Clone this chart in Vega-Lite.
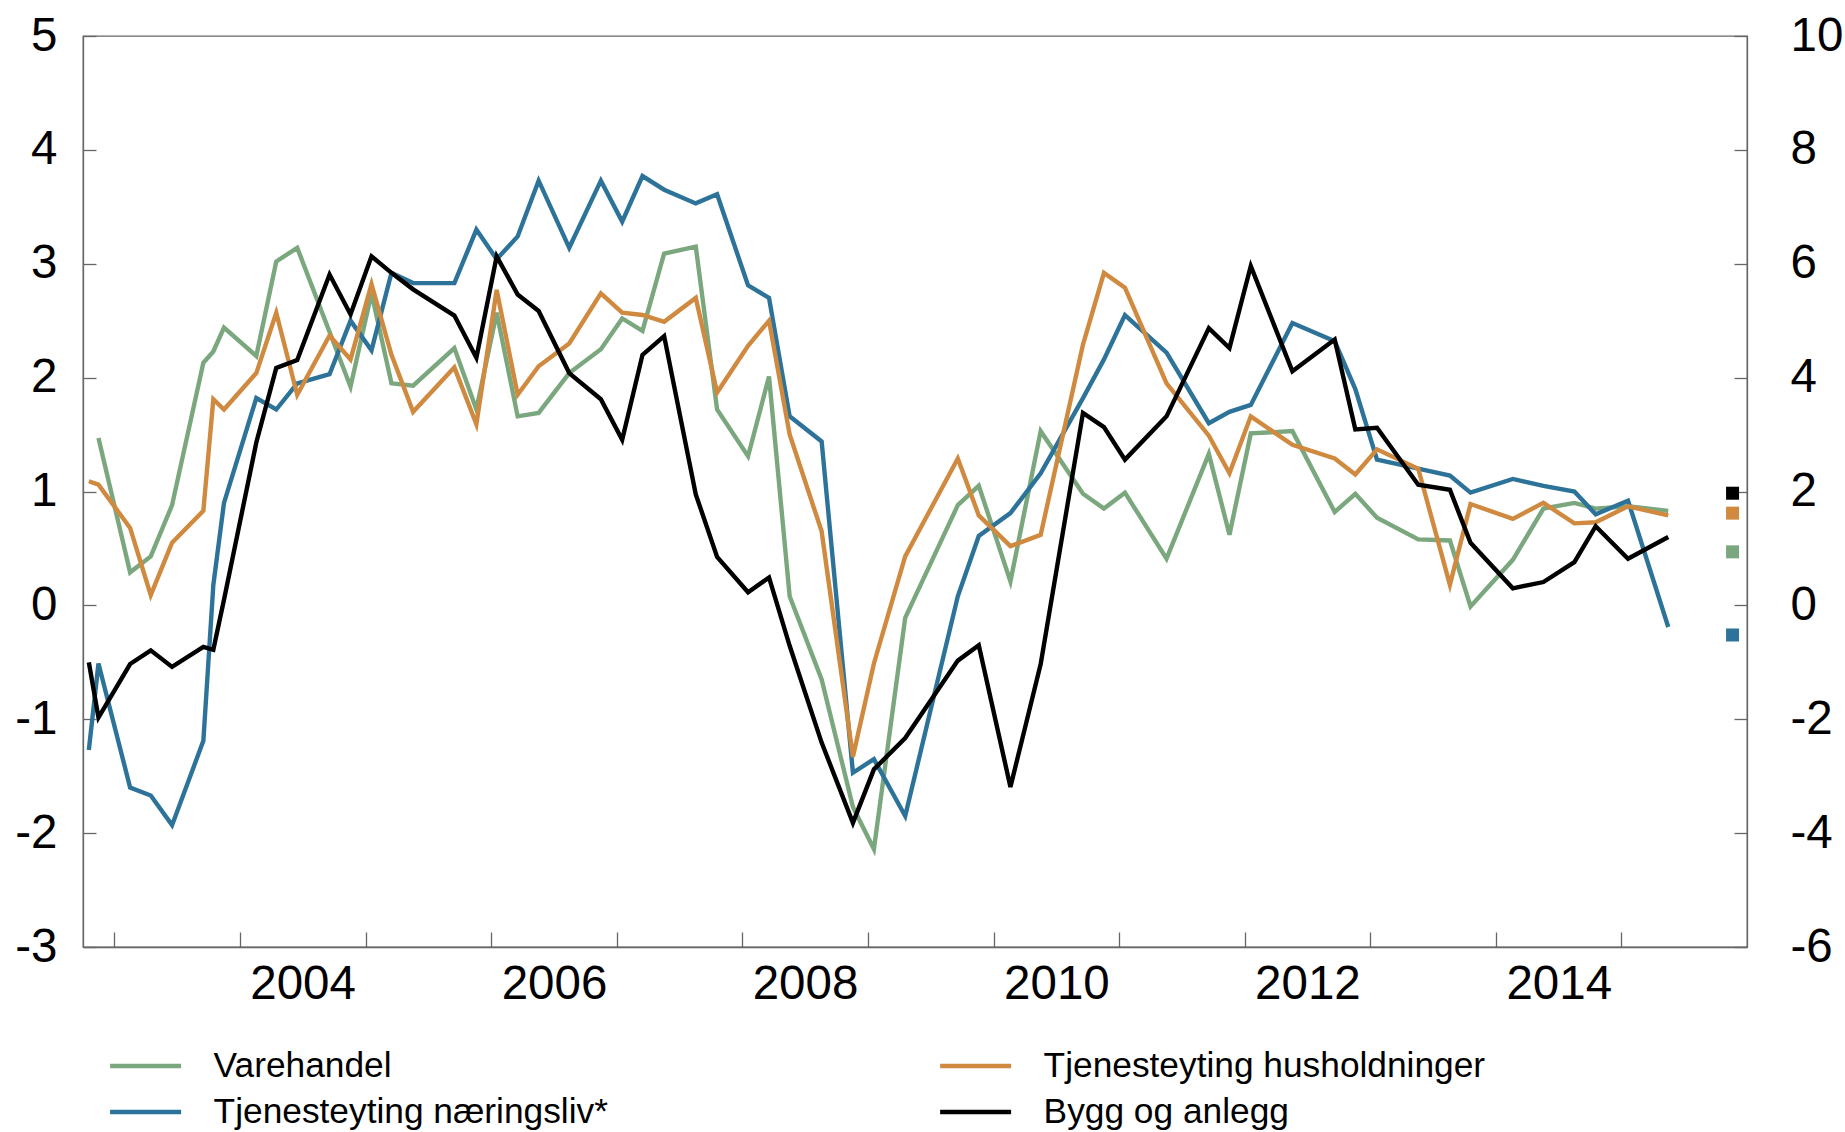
{
  "$schema": "https://vega.github.io/schema/vega-lite/v6.json",
  "width": 1664,
  "height": 911,
  "autosize": {"type": "none"},
  "padding": {"left": 83, "top": 36, "right": 98, "bottom": 185},
  "background": "white",
  "datasets": {
    "lines": [
      {"d":"2002-11-16","s":"Varehandel","v":1.47},{"d":"2003-02-16","s":"Varehandel","v":0.29},{"d":"2003-04-17","s":"Varehandel","v":0.43},{"d":"2003-06-18","s":"Varehandel","v":0.88},{"d":"2003-09-17","s":"Varehandel","v":2.13},{"d":"2003-10-16","s":"Varehandel","v":2.23},{"d":"2003-11-16","s":"Varehandel","v":2.44},{"d":"2004-02-18","s":"Varehandel","v":2.19},{"d":"2004-04-16","s":"Varehandel","v":3.02},{"d":"2004-06-16","s":"Varehandel","v":3.14},{"d":"2004-09-18","s":"Varehandel","v":2.40},{"d":"2004-11-18","s":"Varehandel","v":1.92},{"d":"2005-01-18","s":"Varehandel","v":2.74},{"d":"2005-03-17","s":"Varehandel","v":1.95},{"d":"2005-05-19","s":"Varehandel","v":1.93},{"d":"2005-09-16","s":"Varehandel","v":2.26},{"d":"2005-11-19","s":"Varehandel","v":1.72},{"d":"2006-01-17","s":"Varehandel","v":2.57},{"d":"2006-03-19","s":"Varehandel","v":1.66},{"d":"2006-05-19","s":"Varehandel","v":1.69},{"d":"2006-08-16","s":"Varehandel","v":2.04},{"d":"2006-11-16","s":"Varehandel","v":2.25},{"d":"2007-01-17","s":"Varehandel","v":2.52},{"d":"2007-03-17","s":"Varehandel","v":2.41},{"d":"2007-05-19","s":"Varehandel","v":3.09},{"d":"2007-08-19","s":"Varehandel","v":3.15},{"d":"2007-10-20","s":"Varehandel","v":1.72},{"d":"2008-01-18","s":"Varehandel","v":1.31},{"d":"2008-03-19","s":"Varehandel","v":2.01},{"d":"2008-05-18","s":"Varehandel","v":0.08},{"d":"2008-08-19","s":"Varehandel","v":-0.65},{"d":"2008-11-18","s":"Varehandel","v":-1.77},{"d":"2009-01-18","s":"Varehandel","v":-2.14},{"d":"2009-04-19","s":"Varehandel","v":-0.11},{"d":"2009-09-19","s":"Varehandel","v":0.88},{"d":"2009-11-19","s":"Varehandel","v":1.05},{"d":"2010-02-19","s":"Varehandel","v":0.21},{"d":"2010-05-18","s":"Varehandel","v":1.53},{"d":"2010-09-18","s":"Varehandel","v":0.98},{"d":"2010-11-18","s":"Varehandel","v":0.85},{"d":"2011-01-18","s":"Varehandel","v":0.99},{"d":"2011-05-19","s":"Varehandel","v":0.41},{"d":"2011-09-19","s":"Varehandel","v":1.33},{"d":"2011-11-18","s":"Varehandel","v":0.62},{"d":"2012-01-19","s":"Varehandel","v":1.51},{"d":"2012-05-19","s":"Varehandel","v":1.53},{"d":"2012-09-19","s":"Varehandel","v":0.82},{"d":"2012-11-18","s":"Varehandel","v":0.98},{"d":"2013-01-20","s":"Varehandel","v":0.77},{"d":"2013-05-20","s":"Varehandel","v":0.58},{"d":"2013-08-20","s":"Varehandel","v":0.57},{"d":"2013-10-19","s":"Varehandel","v":-0.01},{"d":"2014-02-19","s":"Varehandel","v":0.40},{"d":"2014-05-19","s":"Varehandel","v":0.85},{"d":"2014-08-17","s":"Varehandel","v":0.90},{"d":"2014-10-18","s":"Varehandel","v":0.85},{"d":"2015-01-20","s":"Varehandel","v":0.87},{"d":"2015-05-17","s":"Varehandel","v":0.83},
      {"d":"2002-10-19","s":"Tjenesteyting næringsliv*","v":-1.27},{"d":"2002-11-16","s":"Tjenesteyting næringsliv*","v":-0.51},{"d":"2003-02-16","s":"Tjenesteyting næringsliv*","v":-1.60},{"d":"2003-04-17","s":"Tjenesteyting næringsliv*","v":-1.67},{"d":"2003-06-18","s":"Tjenesteyting næringsliv*","v":-1.93},{"d":"2003-09-17","s":"Tjenesteyting næringsliv*","v":-1.19},{"d":"2003-10-16","s":"Tjenesteyting næringsliv*","v":0.18},{"d":"2003-11-16","s":"Tjenesteyting næringsliv*","v":0.90},{"d":"2004-02-18","s":"Tjenesteyting næringsliv*","v":1.82},{"d":"2004-04-16","s":"Tjenesteyting næringsliv*","v":1.72},{"d":"2004-06-16","s":"Tjenesteyting næringsliv*","v":1.95},{"d":"2004-09-18","s":"Tjenesteyting næringsliv*","v":2.03},{"d":"2004-11-18","s":"Tjenesteyting næringsliv*","v":2.50},{"d":"2005-01-18","s":"Tjenesteyting næringsliv*","v":2.24},{"d":"2005-03-17","s":"Tjenesteyting næringsliv*","v":2.92},{"d":"2005-05-19","s":"Tjenesteyting næringsliv*","v":2.83},{"d":"2005-09-16","s":"Tjenesteyting næringsliv*","v":2.83},{"d":"2005-11-19","s":"Tjenesteyting næringsliv*","v":3.30},{"d":"2006-01-17","s":"Tjenesteyting næringsliv*","v":3.04},{"d":"2006-03-19","s":"Tjenesteyting næringsliv*","v":3.24},{"d":"2006-05-19","s":"Tjenesteyting næringsliv*","v":3.73},{"d":"2006-08-16","s":"Tjenesteyting næringsliv*","v":3.14},{"d":"2006-11-16","s":"Tjenesteyting næringsliv*","v":3.73},{"d":"2007-01-17","s":"Tjenesteyting næringsliv*","v":3.37},{"d":"2007-03-17","s":"Tjenesteyting næringsliv*","v":3.77},{"d":"2007-05-19","s":"Tjenesteyting næringsliv*","v":3.65},{"d":"2007-08-19","s":"Tjenesteyting næringsliv*","v":3.53},{"d":"2007-10-20","s":"Tjenesteyting næringsliv*","v":3.61},{"d":"2008-01-18","s":"Tjenesteyting næringsliv*","v":2.81},{"d":"2008-03-19","s":"Tjenesteyting næringsliv*","v":2.70},{"d":"2008-05-18","s":"Tjenesteyting næringsliv*","v":1.66},{"d":"2008-08-19","s":"Tjenesteyting næringsliv*","v":1.44},{"d":"2008-11-18","s":"Tjenesteyting næringsliv*","v":-1.47},{"d":"2009-01-18","s":"Tjenesteyting næringsliv*","v":-1.35},{"d":"2009-04-19","s":"Tjenesteyting næringsliv*","v":-1.85},{"d":"2009-09-19","s":"Tjenesteyting næringsliv*","v":0.08},{"d":"2009-11-19","s":"Tjenesteyting næringsliv*","v":0.61},{"d":"2010-02-19","s":"Tjenesteyting næringsliv*","v":0.81},{"d":"2010-05-18","s":"Tjenesteyting næringsliv*","v":1.16},{"d":"2010-09-18","s":"Tjenesteyting næringsliv*","v":1.82},{"d":"2010-11-18","s":"Tjenesteyting næringsliv*","v":2.16},{"d":"2011-01-18","s":"Tjenesteyting næringsliv*","v":2.55},{"d":"2011-05-19","s":"Tjenesteyting næringsliv*","v":2.22},{"d":"2011-09-19","s":"Tjenesteyting næringsliv*","v":1.60},{"d":"2011-11-18","s":"Tjenesteyting næringsliv*","v":1.70},{"d":"2012-01-19","s":"Tjenesteyting næringsliv*","v":1.76},{"d":"2012-05-19","s":"Tjenesteyting næringsliv*","v":2.48},{"d":"2012-09-19","s":"Tjenesteyting næringsliv*","v":2.32},{"d":"2012-11-18","s":"Tjenesteyting næringsliv*","v":1.90},{"d":"2013-01-20","s":"Tjenesteyting næringsliv*","v":1.28},{"d":"2013-05-20","s":"Tjenesteyting næringsliv*","v":1.20},{"d":"2013-08-20","s":"Tjenesteyting næringsliv*","v":1.14},{"d":"2013-10-19","s":"Tjenesteyting næringsliv*","v":0.99},{"d":"2014-02-19","s":"Tjenesteyting næringsliv*","v":1.11},{"d":"2014-05-19","s":"Tjenesteyting næringsliv*","v":1.05},{"d":"2014-08-17","s":"Tjenesteyting næringsliv*","v":1.00},{"d":"2014-10-18","s":"Tjenesteyting næringsliv*","v":0.80},{"d":"2015-01-20","s":"Tjenesteyting næringsliv*","v":0.92},{"d":"2015-05-17","s":"Tjenesteyting næringsliv*","v":-0.19},
      {"d":"2002-10-19","s":"Tjenesteyting husholdninger","v":1.09},{"d":"2002-11-16","s":"Tjenesteyting husholdninger","v":1.06},{"d":"2003-02-16","s":"Tjenesteyting husholdninger","v":0.68},{"d":"2003-04-17","s":"Tjenesteyting husholdninger","v":0.09},{"d":"2003-06-18","s":"Tjenesteyting husholdninger","v":0.55},{"d":"2003-09-17","s":"Tjenesteyting husholdninger","v":0.83},{"d":"2003-10-16","s":"Tjenesteyting husholdninger","v":1.81},{"d":"2003-11-16","s":"Tjenesteyting husholdninger","v":1.72},{"d":"2004-02-18","s":"Tjenesteyting husholdninger","v":2.04},{"d":"2004-04-16","s":"Tjenesteyting husholdninger","v":2.57},{"d":"2004-06-16","s":"Tjenesteyting husholdninger","v":1.85},{"d":"2004-09-18","s":"Tjenesteyting husholdninger","v":2.37},{"d":"2004-11-18","s":"Tjenesteyting husholdninger","v":2.16},{"d":"2005-01-18","s":"Tjenesteyting husholdninger","v":2.82},{"d":"2005-03-17","s":"Tjenesteyting husholdninger","v":2.20},{"d":"2005-05-19","s":"Tjenesteyting husholdninger","v":1.70},{"d":"2005-09-16","s":"Tjenesteyting husholdninger","v":2.09},{"d":"2005-11-19","s":"Tjenesteyting husholdninger","v":1.59},{"d":"2006-01-17","s":"Tjenesteyting husholdninger","v":2.77},{"d":"2006-03-19","s":"Tjenesteyting husholdninger","v":1.85},{"d":"2006-05-19","s":"Tjenesteyting husholdninger","v":2.10},{"d":"2006-08-16","s":"Tjenesteyting husholdninger","v":2.30},{"d":"2006-11-16","s":"Tjenesteyting husholdninger","v":2.74},{"d":"2007-01-17","s":"Tjenesteyting husholdninger","v":2.57},{"d":"2007-03-17","s":"Tjenesteyting husholdninger","v":2.55},{"d":"2007-05-19","s":"Tjenesteyting husholdninger","v":2.49},{"d":"2007-08-19","s":"Tjenesteyting husholdninger","v":2.70},{"d":"2007-10-20","s":"Tjenesteyting husholdninger","v":1.87},{"d":"2008-01-18","s":"Tjenesteyting husholdninger","v":2.28},{"d":"2008-03-19","s":"Tjenesteyting husholdninger","v":2.50},{"d":"2008-05-18","s":"Tjenesteyting husholdninger","v":1.50},{"d":"2008-08-19","s":"Tjenesteyting husholdninger","v":0.65},{"d":"2008-11-18","s":"Tjenesteyting husholdninger","v":-1.33},{"d":"2009-01-18","s":"Tjenesteyting husholdninger","v":-0.51},{"d":"2009-04-19","s":"Tjenesteyting husholdninger","v":0.43},{"d":"2009-09-19","s":"Tjenesteyting husholdninger","v":1.29},{"d":"2009-11-19","s":"Tjenesteyting husholdninger","v":0.79},{"d":"2010-02-19","s":"Tjenesteyting husholdninger","v":0.52},{"d":"2010-05-18","s":"Tjenesteyting husholdninger","v":0.62},{"d":"2010-09-18","s":"Tjenesteyting husholdninger","v":2.29},{"d":"2010-11-18","s":"Tjenesteyting husholdninger","v":2.92},{"d":"2011-01-18","s":"Tjenesteyting husholdninger","v":2.79},{"d":"2011-05-19","s":"Tjenesteyting husholdninger","v":1.95},{"d":"2011-09-19","s":"Tjenesteyting husholdninger","v":1.49},{"d":"2011-11-18","s":"Tjenesteyting husholdninger","v":1.16},{"d":"2012-01-19","s":"Tjenesteyting husholdninger","v":1.66},{"d":"2012-05-19","s":"Tjenesteyting husholdninger","v":1.41},{"d":"2012-09-19","s":"Tjenesteyting husholdninger","v":1.29},{"d":"2012-11-18","s":"Tjenesteyting husholdninger","v":1.15},{"d":"2013-01-20","s":"Tjenesteyting husholdninger","v":1.37},{"d":"2013-05-20","s":"Tjenesteyting husholdninger","v":1.20},{"d":"2013-08-20","s":"Tjenesteyting husholdninger","v":0.18},{"d":"2013-10-19","s":"Tjenesteyting husholdninger","v":0.89},{"d":"2014-02-19","s":"Tjenesteyting husholdninger","v":0.76},{"d":"2014-05-19","s":"Tjenesteyting husholdninger","v":0.90},{"d":"2014-08-17","s":"Tjenesteyting husholdninger","v":0.72},{"d":"2014-10-18","s":"Tjenesteyting husholdninger","v":0.73},{"d":"2015-01-20","s":"Tjenesteyting husholdninger","v":0.87},{"d":"2015-05-17","s":"Tjenesteyting husholdninger","v":0.79},
      {"d":"2002-10-19","s":"Bygg og anlegg","v":-1.00},{"d":"2002-11-16","s":"Bygg og anlegg","v":-1.97},{"d":"2003-02-16","s":"Bygg og anlegg","v":-1.03},{"d":"2003-04-17","s":"Bygg og anlegg","v":-0.79},{"d":"2003-06-18","s":"Bygg og anlegg","v":-1.08},{"d":"2003-09-17","s":"Bygg og anlegg","v":-0.73},{"d":"2003-10-16","s":"Bygg og anlegg","v":-0.78},{"d":"2003-11-16","s":"Bygg og anlegg","v":0.10},{"d":"2004-02-18","s":"Bygg og anlegg","v":2.86},{"d":"2004-04-16","s":"Bygg og anlegg","v":4.17},{"d":"2004-06-16","s":"Bygg og anlegg","v":4.31},{"d":"2004-09-18","s":"Bygg og anlegg","v":5.81},{"d":"2004-11-18","s":"Bygg og anlegg","v":5.11},{"d":"2005-01-18","s":"Bygg og anlegg","v":6.13},{"d":"2005-03-17","s":"Bygg og anlegg","v":5.84},{"d":"2005-05-19","s":"Bygg og anlegg","v":5.55},{"d":"2005-09-16","s":"Bygg og anlegg","v":5.09},{"d":"2005-11-19","s":"Bygg og anlegg","v":4.35},{"d":"2006-01-17","s":"Bygg og anlegg","v":6.13},{"d":"2006-03-19","s":"Bygg og anlegg","v":5.46},{"d":"2006-05-19","s":"Bygg og anlegg","v":5.17},{"d":"2006-08-16","s":"Bygg og anlegg","v":4.08},{"d":"2006-11-16","s":"Bygg og anlegg","v":3.62},{"d":"2007-01-17","s":"Bygg og anlegg","v":2.91},{"d":"2007-03-17","s":"Bygg og anlegg","v":4.40},{"d":"2007-05-19","s":"Bygg og anlegg","v":4.73},{"d":"2007-08-19","s":"Bygg og anlegg","v":1.95},{"d":"2007-10-20","s":"Bygg og anlegg","v":0.85},{"d":"2008-01-18","s":"Bygg og anlegg","v":0.23},{"d":"2008-03-19","s":"Bygg og anlegg","v":0.49},{"d":"2008-05-18","s":"Bygg og anlegg","v":-0.71},{"d":"2008-08-19","s":"Bygg og anlegg","v":-2.41},{"d":"2008-11-18","s":"Bygg og anlegg","v":-3.82},{"d":"2009-01-18","s":"Bygg og anlegg","v":-2.88},{"d":"2009-04-19","s":"Bygg og anlegg","v":-2.33},{"d":"2009-09-19","s":"Bygg og anlegg","v":-0.97},{"d":"2009-11-19","s":"Bygg og anlegg","v":-0.70},{"d":"2010-02-19","s":"Bygg og anlegg","v":-3.19},{"d":"2010-05-18","s":"Bygg og anlegg","v":-1.03},{"d":"2010-09-18","s":"Bygg og anlegg","v":3.38},{"d":"2010-11-18","s":"Bygg og anlegg","v":3.13},{"d":"2011-01-18","s":"Bygg og anlegg","v":2.56},{"d":"2011-05-19","s":"Bygg og anlegg","v":3.32},{"d":"2011-09-19","s":"Bygg og anlegg","v":4.87},{"d":"2011-11-18","s":"Bygg og anlegg","v":4.52},{"d":"2012-01-19","s":"Bygg og anlegg","v":5.96},{"d":"2012-05-19","s":"Bygg og anlegg","v":4.11},{"d":"2012-09-19","s":"Bygg og anlegg","v":4.67},{"d":"2012-11-18","s":"Bygg og anlegg","v":3.09},{"d":"2013-01-20","s":"Bygg og anlegg","v":3.12},{"d":"2013-05-20","s":"Bygg og anlegg","v":2.12},{"d":"2013-08-20","s":"Bygg og anlegg","v":2.03},{"d":"2013-10-19","s":"Bygg og anlegg","v":1.10},{"d":"2014-02-19","s":"Bygg og anlegg","v":0.30},{"d":"2014-05-19","s":"Bygg og anlegg","v":0.41},{"d":"2014-08-17","s":"Bygg og anlegg","v":0.76},{"d":"2014-10-18","s":"Bygg og anlegg","v":1.39},{"d":"2015-01-20","s":"Bygg og anlegg","v":0.82},{"d":"2015-05-17","s":"Bygg og anlegg","v":1.20}
    ],
    "expect": [
      {"d":"2015-11-20","s":"Varehandel","v":0.47},
      {"d":"2015-11-20","s":"Tjenesteyting husholdninger","v":0.81},
      {"d":"2015-11-20","s":"Tjenesteyting næringsliv*","v":-0.26},
      {"d":"2015-11-20","s":"Bygg og anlegg","v":1.97}
    ],
    "zero": [{"v": 0}]
  },
  "layer": [
    {
      "layer": [
        {
          "data": {"name": "zero"},
          "mark": {"type": "rule", "color": "black", "strokeWidth": 1.2},
          "encoding": {"y": {"field": "v", "type": "quantitative"}}
        },
        {
          "data": {"name": "lines"},
          "transform": [{"filter": "datum.s != 'Bygg og anlegg'"}],
          "mark": {"type": "line", "strokeWidth": 4.4, "strokeJoin": "miter"},
          "encoding": {
            "x": {"field": "d", "type": "temporal"},
            "y": {"field": "v", "type": "quantitative"},
            "color": {"field": "s", "type": "nominal"}
          }
        },
        {
          "data": {"name": "expect"},
          "transform": [{"filter": "datum.s != 'Bygg og anlegg'"}],
          "mark": {"type": "square", "size": 169, "opacity": 1, "filled": true},
          "encoding": {
            "x": {"field": "d", "type": "temporal"},
            "y": {"field": "v", "type": "quantitative"},
            "fill": {"field": "s", "type": "nominal", "legend": null,
              "scale": {"domain": ["Varehandel", "Tjenesteyting næringsliv*", "Tjenesteyting husholdninger", "Bygg og anlegg"], "range": ["#7BA77E", "#2D7399", "#D08A40", "#000000"]}}
          }
        }
      ],
      "encoding": {
        "y": {"scale": {"domain": [-3, 5], "nice": false, "zero": false},
          "axis": {"orient": "left", "values": [-3,-2,-1,0,1,2,3,4,5], "tickSize": -13, "labelPadding": 39, "title": null,
            "labelExpr": "(datum.value < 0 ? '-' : '') + abs(datum.value)"}}
      }
    },
    {
      "layer": [
        {
          "data": {"name": "lines"},
          "transform": [{"filter": "datum.s == 'Bygg og anlegg'"}],
          "mark": {"type": "line", "strokeWidth": 4.4, "strokeJoin": "miter"},
          "encoding": {
            "x": {"field": "d", "type": "temporal"},
            "y": {"field": "v", "type": "quantitative"},
            "color": {"field": "s", "type": "nominal"}
          }
        },
        {
          "data": {"name": "expect"},
          "transform": [{"filter": "datum.s == 'Bygg og anlegg'"}],
          "mark": {"type": "square", "size": 169, "opacity": 1, "filled": true},
          "encoding": {
            "x": {"field": "d", "type": "temporal"},
            "y": {"field": "v", "type": "quantitative"},
            "fill": {"field": "s", "type": "nominal", "legend": null}
          }
        }
      ],
      "encoding": {
        "y": {"scale": {"domain": [-6, 10], "nice": false, "zero": false},
          "axis": {"orient": "right", "values": [-6,-4,-2,0,2,4,6,8,10], "tickSize": -13, "labelPadding": 56, "labelAlign": "left", "title": null,
            "labelExpr": "(datum.value < 0 ? '-' : '') + abs(datum.value)",
            "encode": {"labels": {"update": {"dx": {"signal": "datum.value < 0 ? -15.8 : 0"}}}}}}
      }
    }
  ],
  "encoding": {
    "x": {
      "field": "d", "type": "temporal",
      "scale": {"type": "utc", "domain": [{"year": 2002, "month": 10, "date": 2, "utc": true}, {"year": 2016, "month": 1, "date": 1, "utc": true}]},
      "axis": {
        "values": [{"year":2003,"utc":true},{"year":2004,"utc":true},{"year":2005,"utc":true},{"year":2006,"utc":true},{"year":2007,"utc":true},{"year":2008,"utc":true},{"year":2009,"utc":true},{"year":2010,"utc":true},{"year":2011,"utc":true},{"year":2012,"utc":true},{"year":2013,"utc":true},{"year":2014,"utc":true},{"year":2015,"utc":true}],
        "labelExpr": "utcyear(datum.value) % 2 == 0 ? utcFormat(datum.value, '%Y') : ''",
        "labelOffset": 62.8, "tickSize": -15, "labelPadding": 28, "title": null, "labelAlign": "center"
      }
    },
    "color": {
      "field": "s", "type": "nominal",
      "scale": {"domain": ["Varehandel", "Tjenesteyting næringsliv*", "Tjenesteyting husholdninger", "Bygg og anlegg"], "range": ["#7BA77E", "#2D7399", "#D08A40", "#000000"]},
      "legend": {
        "orient": "none", "legendX": 24.6, "legendY": 1007, "columns": 2, "title": null,
        "symbolType": "stroke", "symbolSize": 5041, "symbolStrokeWidth": 4.5,
        "labelFontSize": 35.3, "labelFont": "Liberation Sans", "labelColor": "black",
        "labelOffset": 30, "rowPadding": 0, "columnPadding": 329, "padding": 0, "labelLimit": 0,
        "clipHeight": 46
      }
    }
  },
  "resolve": {"scale": {"y": "independent"}},
  "config": {
    "font": "Liberation Sans",
    "view": {"stroke": "#666666", "strokeWidth": 1.3},
    "axis": {
      "grid": false, "labelFontSize": 47.5, "labelFont": "Liberation Sans", "labelColor": "black",
      "domainColor": "#666666", "domainWidth": 1.3, "tickColor": "#666666", "tickWidth": 1.3,
      "labelOverlap": false, "labelFlush": false, "labelBound": false
    }
  }
}
